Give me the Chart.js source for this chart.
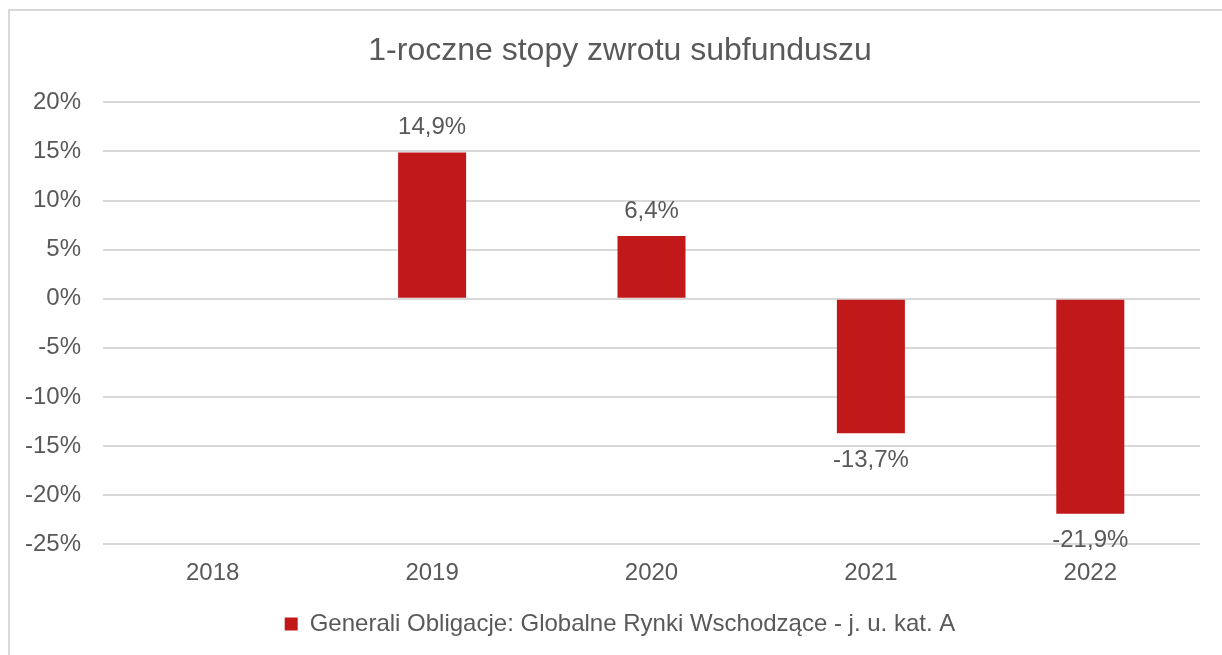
<!DOCTYPE html>
<html>
<head>
<meta charset="utf-8">
<script src="https://cdn.jsdelivr.net/npm/chart.js@4.4.1/dist/chart.umd.min.js"></script>
<style>
  html, body { margin: 0; padding: 0; background: #ffffff; }
  #wrap { position: relative; width: 1222px; height: 655px; overflow: hidden; }
  canvas { display: block; }
</style>
</head>
<body>
<div id="wrap"><canvas id="c" width="1222" height="655"></canvas></div>
<script>
// ---- data ----
const chartTitle = '1-roczne stopy zwrotu subfunduszu';
const categories = ['2018', '2019', '2020', '2021', '2022'];
const seriesName = 'Generali Obligacje: Globalne Rynki Wschodzące - j. u. kat. A';
const seriesValues = [null, 14.9, 6.4, -13.7, -21.9];
const yTickValues = [-25, -20, -15, -10, -5, 0, 5, 10, 15, 20];
const yTickLabels = ['-25%', '-20%', '-15%', '-10%', '-5%', '0%', '5%', '10%', '15%', '20%'];

const TEXT = '#595959';
const GRID = '#d9d9d9';
const BAR = '#C1191A';
const FONT = "'Liberation Sans', Arial, sans-serif";

const framePlugin = {
  id: 'frame',
  beforeDraw(chart) {
    const ctx = chart.ctx;
    ctx.save();
    ctx.fillStyle = '#ffffff';
    ctx.fillRect(0, 0, chart.width, chart.height);
    ctx.fillStyle = GRID;
    ctx.fillRect(8, 9, 2, chart.height);
    ctx.fillRect(8, 9, chart.width, 2);
    ctx.restore();
  }
};

const valueLabels = {
  id: 'valueLabels',
  afterDatasetsDraw(chart) {
    const ctx = chart.ctx;
    ctx.save();
    ctx.font = '24px ' + FONT;
    ctx.fillStyle = TEXT;
    ctx.textAlign = 'center';
    ctx.textBaseline = 'middle';
    chart.data.datasets.forEach((ds, di) => {
      const meta = chart.getDatasetMeta(di);
      meta.data.forEach((bar, i) => {
        const v = ds.data[i];
        if (v === null || v === undefined) return;
        const txt = v.toFixed(1).replace('.', ',') + '%';
        const y = v >= 0 ? bar.y - 25 : bar.y + 27;
        ctx.fillText(txt, bar.x, y);
      });
    });
    ctx.restore();
  }
};

new Chart(document.getElementById('c'), {
  type: 'bar',
  data: {
    labels: categories,
    datasets: [{
      label: seriesName,
      data: seriesValues,
      backgroundColor: BAR,
      borderWidth: 0,
      categoryPercentage: 1.0,
      barPercentage: 0.31
    }]
  },
  options: {
    responsive: false,
    devicePixelRatio: 1,
    animation: false,
    layout: { padding: { top: 10, left: 40, right: 22, bottom: 9 } },
    plugins: {
      title: {
        display: true,
        text: chartTitle,
        color: TEXT,
        font: { family: FONT, size: 32, weight: 'normal' },
        padding: { top: 22, bottom: 32 }
      },
      legend: {
        display: true,
        position: 'bottom',
        labels: {
          color: TEXT,
          font: { family: FONT, size: 24 },
          boxWidth: 13,
          boxHeight: 13,
          padding: 17
        }
      },
      tooltip: { enabled: false }
    },
    scales: {
      x: {
        grid: { display: false },
        border: { display: false },
        ticks: { color: TEXT, font: { family: FONT, size: 24 }, padding: 7 }
      },
      y: {
        min: -25,
        max: 20,
        afterFit(scale) { scale.width = 63; },
        afterBuildTicks(scale) { scale.ticks = yTickValues.map(v => ({ value: v })); },
        grid: { color: GRID, lineWidth: 2, drawTicks: false },
        border: { display: false },
        ticks: {
          color: TEXT,
          font: { family: FONT, size: 24 },
          mirror: true,
          crossAlign: 'far',
          padding: -78,
          callback: (v) => { const k = yTickValues.indexOf(v); return k >= 0 ? yTickLabels[k] : ''; }
        }
      }
    }
  },
  plugins: [framePlugin, valueLabels]
});
</script>
</body>
</html>
